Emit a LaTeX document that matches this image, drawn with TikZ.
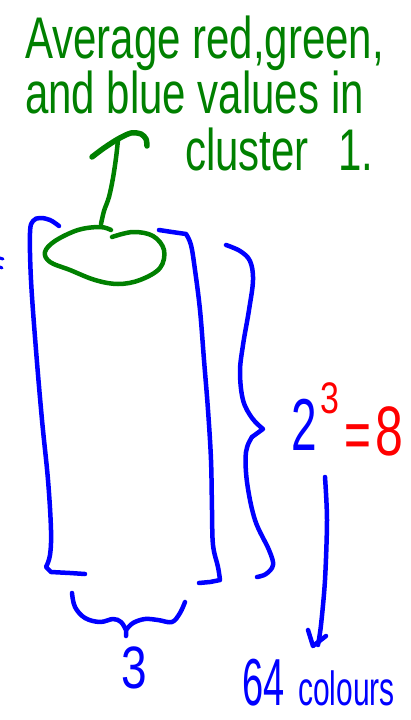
\documentclass[tikz,border=0pt]{standalone}
\usepackage{fontspec}
\usepackage{graphicx}
\setmainfont{Liberation Sans}
\definecolor{penblue}{RGB}{0,0,255}
\definecolor{pengreen}{RGB}{0,128,0}
\definecolor{penred}{RGB}{255,0,0}
\newcommand\tallt[2]{\scalebox{1}[#1]{#2}}
\tikzset{
  bluepen/.style={draw=penblue, line width=4.5pt, line cap=round, line join=round},
  greenpen/.style={draw=pengreen, line width=4.5pt, line cap=round, line join=round},
  txt/.style={inner sep=0pt, anchor=base west},
}
\begin{document}
\begin{tikzpicture}[x=1pt,y=-1pt]
\useasboundingbox (0,0) rectangle (411,720);

% green caption
\node[txt, text=pengreen, font=\fontsize{42}{42}\selectfont] (t1) at (25,58) {\tallt{1.4}{Average red,green,}};
\node[txt, text=pengreen, font=\fontsize{42}{42}\selectfont] (t2) at (25,113) {\tallt{1.4}{and blue values in}};
\node[txt, text=pengreen, font=\fontsize{42}{42}\selectfont] (t3) at (185,170) {\tallt{1.4}{cluster\hspace{0.7em}1.}};

% green ellipse
\draw[greenpen] plot[smooth, tension=0.6] coordinates {(112,237) (133,232) (153,236) (164,250) (160,268) (140,280) (118,284) (95,280) (70,270) (50,262) (45,252) (55,241) (78,230) (100,227) (111,230)};

% green arrow from ellipse to caption
\coordinate (gs) at (101,224);
\coordinate (ge) at (118,140);
\draw[greenpen] plot[smooth] coordinates {(gs) (104,211) (109,197) (113,178) (116,158) (ge)};
\draw[greenpen, line width=5.5pt] plot[smooth] coordinates {(92,157) (104,148) (118,139) (131,133) (141,134) (146,139) (147,146)};

% left bracket
\draw[bluepen] plot[smooth, tension=0.6] coordinates {(59,226) (50,220) (40,218) (33,221) (30,233) (31,280) (36,350) (42,420) (48,480) (51,530) (50,555) (46,567)} -- (51,572) -- (70,573) -- (85,574);

% right bracket
\draw[bluepen] (159,230) -- (172,232) -- (186,234) plot[smooth, tension=0.6] coordinates {(186,234) (191,245) (195,270) (200,310) (204,360) (208,410) (211,460) (212,510) (213,545) (218,567) (220,580)} -- (210,582) -- (199,583);

% right brace
\draw[bluepen] plot[smooth, tension=0.6] coordinates {(226,245) (240,251) (250,261) (253,280) (249,310) (243,345) (240,372) (243,400) (252,418) (263,429)} -- (252,437);
\draw[bluepen] plot[smooth, tension=0.6] coordinates {(252,437) (246,452) (247,482) (255,520) (269,550) (273,565) (266,574) (257,577)};

% bottom brace
\draw[bluepen] plot[smooth, tension=0.6] coordinates {(72,593) (75,607) (85,618) (100,622) (113,619) (121,622) (126,630)} -- (126,636);
\draw[bluepen] plot[smooth, tension=0.6] coordinates {(126,630) (133,623) (145,619) (158,620) (172,622) (180,613) (185,602)};

% labels
\node[txt, text=penblue, font=\fontsize{46}{46}\selectfont] (three) at (121,688) {\tallt{1.3}{3}};
\node[txt, text=penblue, font=\fontsize{46}{46}\selectfont] (two) at (291,450) {\tallt{1.6}{2}};
\node[txt, text=penred, font=\fontsize{34}{34}\selectfont] (exp) at (320,413) {\tallt{1.3}{3}};
\node[txt, text=penred, font=\fontsize{46}{46}\selectfont] (eq) at (344,458) {\tallt{1.5}{=}};
\node[txt, text=penred, font=\fontsize{50}{50}\selectfont] (eight) at (375,455) {\tallt{1.4}{8}};
\node[txt, text=penblue, font=\fontsize{38}{38}\selectfont] (sixtyfour) at (242,705) {\tallt{1.75}{64}};
\node[txt, text=penblue, font=\fontsize{30}{30}\selectfont] (colours) at (298,705) {\tallt{1.6}{colours}};

% blue arrow
\coordinate (bs) at (325,477);
\coordinate (be) at (318,645);
\draw[bluepen] plot[smooth] coordinates {(bs) (327,520) (325,580) (321,625) (be)};
\draw[bluepen] (308,630) -- (313,646) -- (326,636);

% left-edge fragments
\draw[bluepen, line width=3pt] (0,258) -- (3,259);
\draw[bluepen, line width=3pt] (0,267) -- (2,268);
\end{tikzpicture}
\end{document}
